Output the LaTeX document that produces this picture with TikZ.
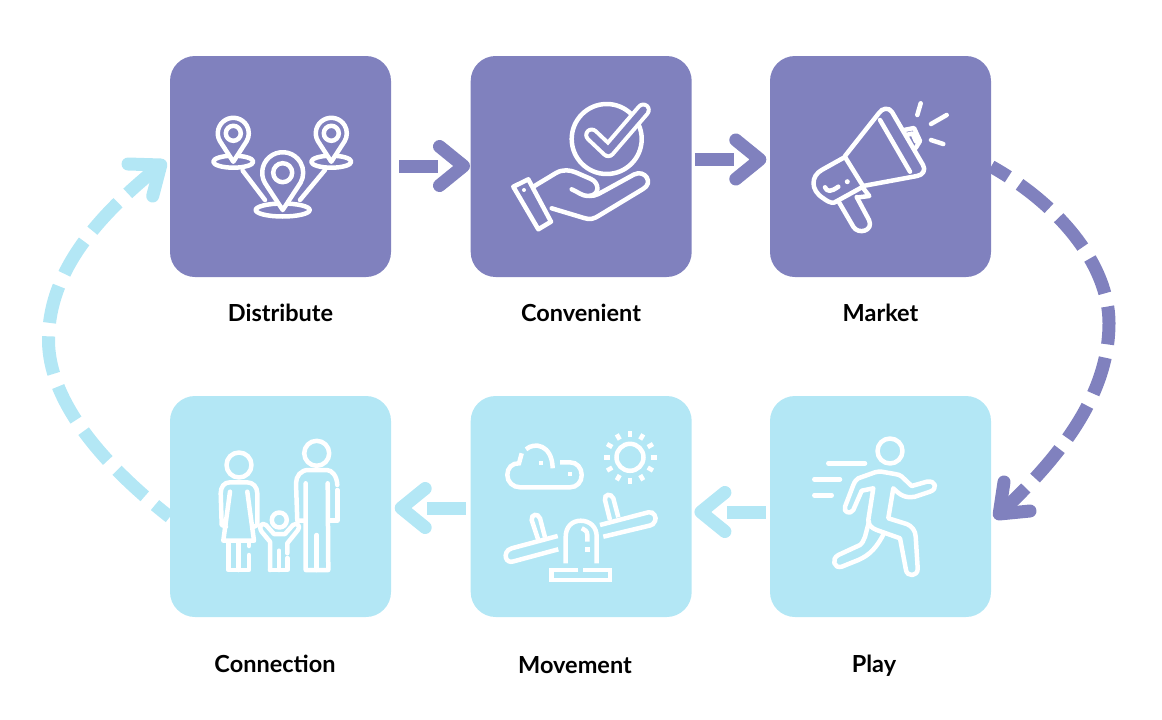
\documentclass[tikz,border=0pt]{standalone}
\usepackage{fontspec}
\setsansfont{Lato}
\usetikzlibrary{arrows.meta}
\definecolor{flowpurple}{RGB}{128,129,190}
\definecolor{flowblue}{RGB}{179,231,245}

\begin{document}
\begin{tikzpicture}[
  x=1pt,y=-1pt,
  font=\sffamily\bfseries\fontsize{23.5}{28}\selectfont,
  stage/.style={rounded corners=25pt,minimum size=221pt,inner sep=0pt},
  caption/.style={text=black,inner sep=0pt},
  shaft/.style={line width=13pt},
  chevron/.style={line width=13pt,line cap=round,line join=round},
  loopdash/.style={line width=13pt,dash pattern=on 38pt off 13.5pt},
  iconline/.style={draw=white,line width=4.5pt,line cap=round,line join=round},
  iconflat/.style={draw=white,line width=4.5pt,line cap=butt,line join=miter}
]
\useasboundingbox (0,0) rectangle (1162,720);

\node[stage,fill=flowpurple] (distribute) at (280.5,166.5) {};
\node[stage,fill=flowpurple] (convenient) at (581.2,166.5) {};
\node[stage,fill=flowpurple] (market) at (880.5,166.5) {};
\node[stage,fill=flowblue] (connection) at (280.5,506.5) {};
\node[stage,fill=flowblue] (movement) at (581.2,506.5) {};
\node[stage,fill=flowblue] (play) at (880.5,506.5) {};

\node[caption] (distributelabel) at (280.5,313) {Distribute};
\node[caption] (convenientlabel) at (581,313) {Convenient};
\node[caption] (marketlabel) at (880.5,313) {Market};
\node[caption] (connectionlabel) at (275,664) {Connection};
\node[caption] (movementlabel) at (575,665) {Movement};
\node[caption] (playlabel) at (874,666) {Play};

\foreach \src/\srcside/\dst/\dstside/\off/\sgap/\dgap/\tipgap/\dir/\col in {
  distribute/east/convenient/west/-0.5/8/33/7/1/flowpurple,
  convenient/east/market/west/-7/3/36/10/1/flowpurple,
  play/west/movement/east/5.5/4/35/9/-1/flowblue,
  movement/west/connection/east/1.5/5/36/10/-1/flowblue}
  {
    \draw[shaft,\col] ([shift={(\dir*\sgap,\off)}]\src.\srcside)
      -- ([shift={(\dir*-\dgap,\off)}]\dst.\dstside);
    \coordinate (tip) at ([shift={(\dir*-\tipgap,\off)}]\dst.\dstside);
    \draw[chevron,\col] ([shift={(\dir*-24,-19.5)}]tip) -- (tip)
      -- ([shift={(\dir*-24,19.5)}]tip);
  }

\coordinate (rightbend) at (1109,323);
\coordinate (leftbend) at (48.5,340);
\coordinate (playtip) at ([shift={(8,7.5)}]play.east);
\coordinate (distributetip) at ([shift={(-9,-1.5)}]distribute.west);
\draw[loopdash,flowpurple,dash phase=18pt] (market.east)
  .. controls +(68,38) and +(0,-58) .. (rightbend)
  .. controls +(0,72) and +(61,-57) .. (playtip);
\draw[chevron,flowpurple] (1004,482) -- (playtip) -- (1030,511);
\draw[loopdash,flowblue,dash phase=19pt] ([shift={(0,10.5)}]connection.west)
  .. controls +(-60,-47) and +(0,65) .. (leftbend)
  .. controls +(0,-70) and +(-61,49) .. (distributetip);
\draw[chevron,flowblue] (128,164) -- (distributetip) -- (152.7,196);

% pins
\draw[iconline] (242.7,170.7) -- (265,200);
\draw[iconline] (325,170) -- (300,200);
\foreach \cx/\cy/\rad/\eye/\drop/\rx/\ry in {
  233.3/133.3/15.5/7.5/28.4/20/6,
  331.3/133.3/15.5/7.5/28.4/20/6,
  282.7/172.7/20.5/9.5/37.3/27/6.5}
  {
    \draw[iconline] (\cx,\cy+\drop) ellipse [x radius=\rx,y radius=\ry];
    \draw[iconline,fill=flowpurple] (\cx,\cy+\drop)
      -- ([shift={(150:\rad)}]\cx,\cy) arc (150:390:\rad) -- cycle;
    \draw[iconline] (\cx,\cy) circle (\eye);
  }

% hand and check
\draw[iconline] (606.7,139) circle (35);
\draw[white,line width=15pt,line cap=round,line join=round]
  (591.7,135) -- (608.3,150.7) -- (643.3,110);
\draw[flowpurple,line width=7pt,line cap=round,line join=round]
  (591.7,135) -- (608.3,150.7) -- (643.3,110);
\draw[iconline] (513.3,186.7) -- (528.3,179.3) -- (551,221.7) -- (538.3,229.3) -- cycle;
\fill[white] (524,190) circle (2);
\draw[iconline] (533.3,186.7) -- (556,173) .. controls (563,169) and (570,170) .. (576,172.5)
  -- (591,179) .. controls (600,183) and (600,196) .. (588,196)
  .. controls (582,196) and (578,192) .. (571.7,189.3);
\draw[iconline] (590,196) .. controls (596,196) and (600,193) .. (604,191) -- (634,174.5)
  .. controls (645,169) and (654,183) .. (643,189) -- (600,215)
  .. controls (594,219) and (590,220) .. (584,218) -- (551.7,208.3);

% megaphone
\draw[iconline] (845,156) -- (879,113) .. controls (882,108) and (889,107) .. (892,112)
  -- (923,165) .. controls (926,170) and (923,175) .. (917,176) -- (863,186);
\draw[iconline] (880,120) -- (910,171.7);
\draw[iconline] (845,157) -- (821.7,170) .. controls (811,176) and (810,190) .. (823.3,198.3)
  .. controls (827,201) and (830,203) .. (834,202.7) -- (863.3,186.5) -- (845,157);
\draw[iconline] (838.3,201) -- (853.3,226.7) .. controls (858,235) and (874,231) .. (869,220)
  -- (856.7,197);
\draw[iconline] (863.3,188.3) -- (869.3,196) -- (857.3,197.5);
\fill[white] (847.3,181.7) circle (2.5);
\draw[iconline] (825,187.3) .. controls (827,192) and (831,192) .. (838.3,186.7);
\draw[iconline] (904,130) -- (914,128) -- (920,141) -- (915.7,148);
\draw[iconline] (906.5,135) -- (912.5,133.5) -- (916,141.5);
\draw[iconline] (920.7,103.3) -- (917.3,115);
\draw[iconline] (946.7,115) -- (931,124);
\draw[iconline] (931,140) -- (943.3,144);

% family
\draw[iconline] (239,465) circle (12.5);
\draw[iconline] (226,526.7) -- (221.7,525) -- (220.7,493.3) .. controls (220.7,487) and (224,482.3) .. (230,482.3)
  -- (247,482.3) .. controls (253,482.3) and (257.3,487) .. (257.3,493.3) -- (257.3,525) -- (253.5,527);
\draw[iconline] (230,491.7) -- (223.3,540.7) -- (254,540.7) -- (247.3,491.7);
\draw[iconline] (228.3,542.7) -- (228.3,570) -- (249,570) -- (249,555);
\draw[iconline] (238.3,543.3) -- (238.3,570);
\draw[iconline] (249,543.3) -- (249,546);
\draw[iconline] (316.7,453.3) circle (12.5);
\draw[iconline] (304.3,520.7) -- (297.3,520.7) -- (296,483.3) .. controls (296,476) and (301,470) .. (308.3,470)
  -- (326.7,470) .. controls (332,470) and (337,476) .. (337.3,485);
\draw[iconline] (337.3,490) -- (337.3,520.7) -- (329.3,520.7);
\draw[iconline] (305.7,483.3) -- (305.7,570) -- (328.3,570) -- (327.7,483.3);
\draw[iconline] (316.7,535) -- (316.7,570);
\draw[iconline] (279.3,520) circle (7.5);
\draw[iconline] (270,570) -- (270,541.7) -- (261.7,531.7) .. controls (258,526) and (262,522) .. (266,525)
  -- (274,534) -- (285,534) -- (293,525) .. controls (297,522) and (301,526) .. (298,530)
  -- (287.3,543.3) -- (287.3,553.3);
\draw[iconline] (287.3,558) -- (287.3,570) -- (270,570);
\draw[iconline] (279,550.7) -- (279,570);

% cloud, sun and seesaw
\draw[iconflat] (630,457.3) circle (13.5);
\foreach \ang in {0,30,...,330}
  {
    \draw[iconflat] ([shift={(\ang:20.5)}]630,457.3) -- ([shift={(\ang:26.5)}]630,457.3);
  }
\draw[iconflat] (526,449.3) .. controls (534,442) and (552,444) .. (552.7,468.3);
\draw[iconflat] (521.7,453.3) -- (519,463.3) .. controls (512,463) and (507.3,468) .. (507.3,475)
  .. controls (507.3,482) and (513,487.3) .. (520,487.3) -- (570,487.3)
  .. controls (577,487.3) and (581.7,482) .. (581.7,475) .. controls (581.7,468) and (577,462.3) .. (570,462.3)
  -- (560,462.3);
\fill[white] (539.3,460.7) rectangle (543.3,464.7);
\fill[white] (568,472) rectangle (572,476);
\draw[iconflat] (600,525) -- (648.3,512.3) .. controls (654,511) and (657,518) .. (655,521)
  .. controls (654,524) and (652,525) .. (650,525.5) -- (603.3,536.7);
\draw[iconflat] (557.7,536) -- (511.7,548.3) .. controls (506,550) and (505,555) .. (506,558)
  .. controls (507,561) and (510,562.5) .. (513,561.5) -- (558.3,549.3);
\draw[iconflat] (545,537.3) -- (540,518.3) .. controls (538,513) and (531,514) .. (531.7,520) -- (538.3,540);
\draw[iconflat] (618.3,517.3) -- (613.3,498.3) .. controls (611,493) and (604,494) .. (605,500) -- (610,520);
\draw[iconflat] (565.7,563.3) -- (565.7,536.7) .. controls (565.7,527) and (572,520.7) .. (580.7,520.7)
  .. controls (590,520.7) and (596.7,527) .. (596.7,536.7) -- (596.7,563.3);
\draw[iconflat] (581.7,528.3) .. controls (585,530) and (587.3,531) .. (587.3,535) -- (587.3,541.7);
\fill[white] (585,547) rectangle (589.5,551.5);
\draw[iconflat] (578.3,570) -- (551.7,570) -- (551.7,580) -- (610,580) -- (610,570) -- (583.3,570);

% runner
\draw[iconline] (890,451) circle (12.5);
\draw[iconline] (828.3,463.3) -- (865,463.3);
\draw[iconline] (814.3,479.3) -- (840,479.3);
\draw[iconline] (814.3,495.3) -- (831.7,495.3);
\draw[iconline] (845,506.7) -- (853.3,485) .. controls (855,481) and (856,480) .. (858.3,478.3)
  -- (875,472.3) .. controls (878,471.5) and (880,471.5) .. (881.7,471.7) -- (895,474)
  .. controls (898,474.5) and (900,475) .. (901.7,476.5) -- (911.7,486) -- (926.7,481.7)
  .. controls (936,480) and (938,489) .. (930,491.7) -- (915,496.7)
  .. controls (905,498.5) and (900,495) .. (893.3,488.3) -- (888.3,518.3) -- (906.7,524)
  .. controls (912,526) and (915.5,531) .. (915.7,536.7) -- (917.7,568.3)
  .. controls (918,577) and (907,577) .. (906,570) -- (900,538.3) -- (876.7,530)
  .. controls (871,528) and (868,524) .. (868.3,520) -- (873.3,488.3) -- (861.7,490.7)
  -- (853.3,510) .. controls (850,515) and (843,512) .. (845,506.7);
\draw[iconline] (869,521.7) -- (865,536.7) .. controls (864,540) and (862,543.5) .. (860,545)
  -- (838.3,555) .. controls (831,559) and (834,569) .. (841.7,566.7) -- (858.3,560)
  .. controls (870,555) and (877,547) .. (884,533.3);
\end{tikzpicture}
\end{document}
